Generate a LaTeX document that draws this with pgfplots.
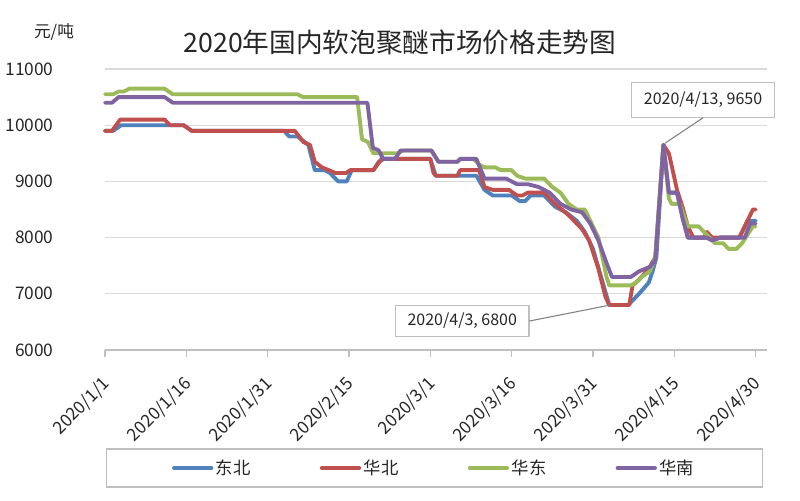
\documentclass[border=0pt]{standalone}
\usepackage{fontspec}
\setmainfont{Noto Sans CJK SC}
\usepackage{pgfplots}
\pgfplotsset{compat=1.18}
\definecolor{cblue}{HTML}{4F81BD}
\definecolor{cred}{HTML}{C0504D}
\definecolor{cgreen}{HTML}{9BBB59}
\definecolor{cpurple}{HTML}{8064A2}
\definecolor{gridc}{HTML}{D9D9D9}
\definecolor{axc}{HTML}{BFBFBF}
\definecolor{txt}{HTML}{262626}
\begin{document}
\begin{tikzpicture}
\path[use as bounding box] (0,0) rectangle (600pt,-375pt);
\node[font=\fontsize{20}{24}\selectfont, text=txt] at (300pt,-31.5pt) {2020年国内软泡聚醚市场价格走势图};
\node[font=\fontsize{12.5}{14}\selectfont, text=txt] at (40.5pt,-24pt) {元/吨};
\begin{axis}[
  at={(78.75pt,-262.5pt)}, anchor=south west,
  scale only axis, width=496.5pt, height=210.75pt,
  xmin=0, xmax=122.1, ymin=6000, ymax=11000,
  clip=false,
  scaled y ticks=false,
  axis x line*=bottom, axis y line*=left,
  y axis line style={draw=none},
  x axis line style={axc, line width=0.9pt},
  ymajorgrids, grid style={gridc, line width=0.9pt},
  ytick={6000,7000,8000,9000,10000,11000},
  yticklabels={6000,7000,8000,9000,10000,11000},
  ytick style={draw=none},
  xtick={0,15,30,45,60,75,90,105,120},
  xticklabels={2020/1/1,2020/1/16,2020/1/31,2020/2/15,2020/3/1,2020/3/16,2020/3/31,2020/4/15,2020/4/30},
  xtick style={axc, line width=0.9pt},
  tick align=outside, major tick length=5pt,
  /pgf/number format/assume math mode=true,
  y tick label style={font=\fontsize{13}{15}\selectfont, text=txt, xshift=-30pt},
  x tick label style={font=\fontsize{13}{15}\selectfont, text=txt, xshift=4pt, yshift=-16pt, rotate=45, anchor=east},
  every axis plot/.append style={line width=2.9pt, line join=round, line cap=round},
  legend columns=4,
  legend image code/.code={\draw[#1] (0pt,0pt) -- (28pt,0pt);},
  legend style={at={(0.4977,-0.42)}, anchor=center, draw=axc, line width=0.8pt,
    font=\fontsize{13}{15}\selectfont, text=txt, inner xsep=49pt, inner ysep=6pt,
    /tikz/every even column/.append style={column sep=50pt}},
]
\addplot[cblue] coordinates {(0,9900)(1.5,9900)(3,10000)(14.5,10000)(16,9900)(33,9900)(34,9800)(35.5,9800)(37.5,9650)(38.7,9200)(40.5,9200)(41.5,9150)(43,9000)(44.6,9000)(45.5,9200)(49.5,9200)(50.5,9350)(51.5,9400)(60,9400)(61,9100)(68.5,9100)(70,8850)(71.5,8750)(75,8750)(76.5,8650)(77.5,8650)(78.5,8750)(81,8750)(83,8550)(85,8450)(87,8300)(88.5,8100)(90,7800)(91.5,7300)(93,6800)(96.5,6800)(98.5,7000)(100.3,7200)(101,7400)(101.7,7650)(103,9650)(104,8800)(105.5,8800)(106.5,8400)(107.5,8000)(111,8000)(112,7950)(113.5,8000)(117,8000)(118.5,8300)(120,8300)};
\addplot[cred] coordinates {(0,9900)(1.3,9900)(2.8,10100)(11,10100)(12,10000)(14.5,10000)(16,9900)(35,9900)(36.6,9700)(37.8,9650)(38.7,9350)(40,9250)(41.3,9200)(42.5,9150)(44.5,9150)(45.2,9200)(49.5,9200)(51,9400)(60,9400)(60.6,9150)(61,9100)(65,9100)(65.5,9200)(69,9200)(70,8900)(71.5,8850)(74.5,8850)(76,8750)(77,8750)(78,8800)(81,8800)(83,8600)(85.5,8400)(88,8150)(89.3,7950)(91,7450)(92.3,6950)(93,6800)(96.7,6800)(97.3,7150)(98.5,7250)(100.3,7450)(101.5,7650)(103,9650)(104,9500)(104.7,9200)(105.5,8850)(106.5,8550)(107.5,8200)(108.5,8000)(110.5,8000)(111,8100)(112,8000)(117,8000)(118,8200)(119,8400)(119.5,8500)(120,8500)};
\addplot[cgreen] coordinates {(0,10550)(1.5,10550)(2.5,10600)(3.5,10600)(4.5,10650)(11,10650)(12.5,10550)(35.5,10550)(36.5,10500)(46.5,10500)(47.4,9750)(48.5,9700)(49.5,9500)(54,9500)(55,9550)(60.2,9550)(61.5,9350)(65,9350)(65.5,9400)(68,9400)(69,9300)(70,9250)(72,9250)(73,9200)(75,9200)(76,9100)(77.5,9050)(81,9050)(82.5,8900)(84,8800)(85.5,8600)(87,8500)(88.5,8500)(90,8200)(91,8000)(92.5,7300)(93,7150)(97,7150)(98,7200)(99,7300)(100.5,7400)(101.5,7650)(103,9650)(104,8700)(104.5,8600)(106,8600)(107.5,8200)(109.5,8200)(110.5,8100)(111.5,8000)(112.5,7900)(114,7900)(115,7800)(116.5,7800)(117.5,7900)(118.5,8050)(119.5,8200)(120,8200)};
\addplot[cpurple] coordinates {(0,10400)(1.3,10400)(2.5,10500)(11,10500)(12.5,10400)(48.4,10400)(49.4,9600)(50.5,9550)(51.3,9400)(53.5,9400)(54.5,9550)(60.2,9550)(61.5,9350)(65,9350)(65.5,9400)(68.5,9400)(70,9050)(74,9050)(76,8950)(78,8950)(80,8900)(82,8800)(84,8600)(86,8500)(88,8450)(89.5,8250)(91,7950)(92.5,7550)(93.5,7300)(97,7300)(98.5,7400)(100.5,7480)(101.5,7600)(103,9650)(104,8800)(105.5,8800)(106.5,8350)(107.5,8000)(111,8000)(112,7950)(113.5,8000)(118,8000)(119,8250)(120,8250)};
\legend{东北,华北,华东,华南}
\node[draw=axc, fill=white, line width=0.8pt, font=\fontsize{12}{14}\selectfont, text=txt, inner xsep=9pt, inner ysep=6pt] (b1) at (axis cs:65.9,6516) {2020/4/3, 6800};
\node[draw=axc, fill=white, line width=0.8pt, font=\fontsize{12}{14}\selectfont, text=txt, inner xsep=9pt, inner ysep=7pt] (b2) at (axis cs:110.3,10448) {2020/4/13, 9650};
\draw[gray, line width=0.8pt] (b1.east) -- (axis cs:93.2,6800);
\draw[gray, line width=0.8pt] (b2.south) -- (axis cs:103.3,9680);
\end{axis}
\end{tikzpicture}
\end{document}
